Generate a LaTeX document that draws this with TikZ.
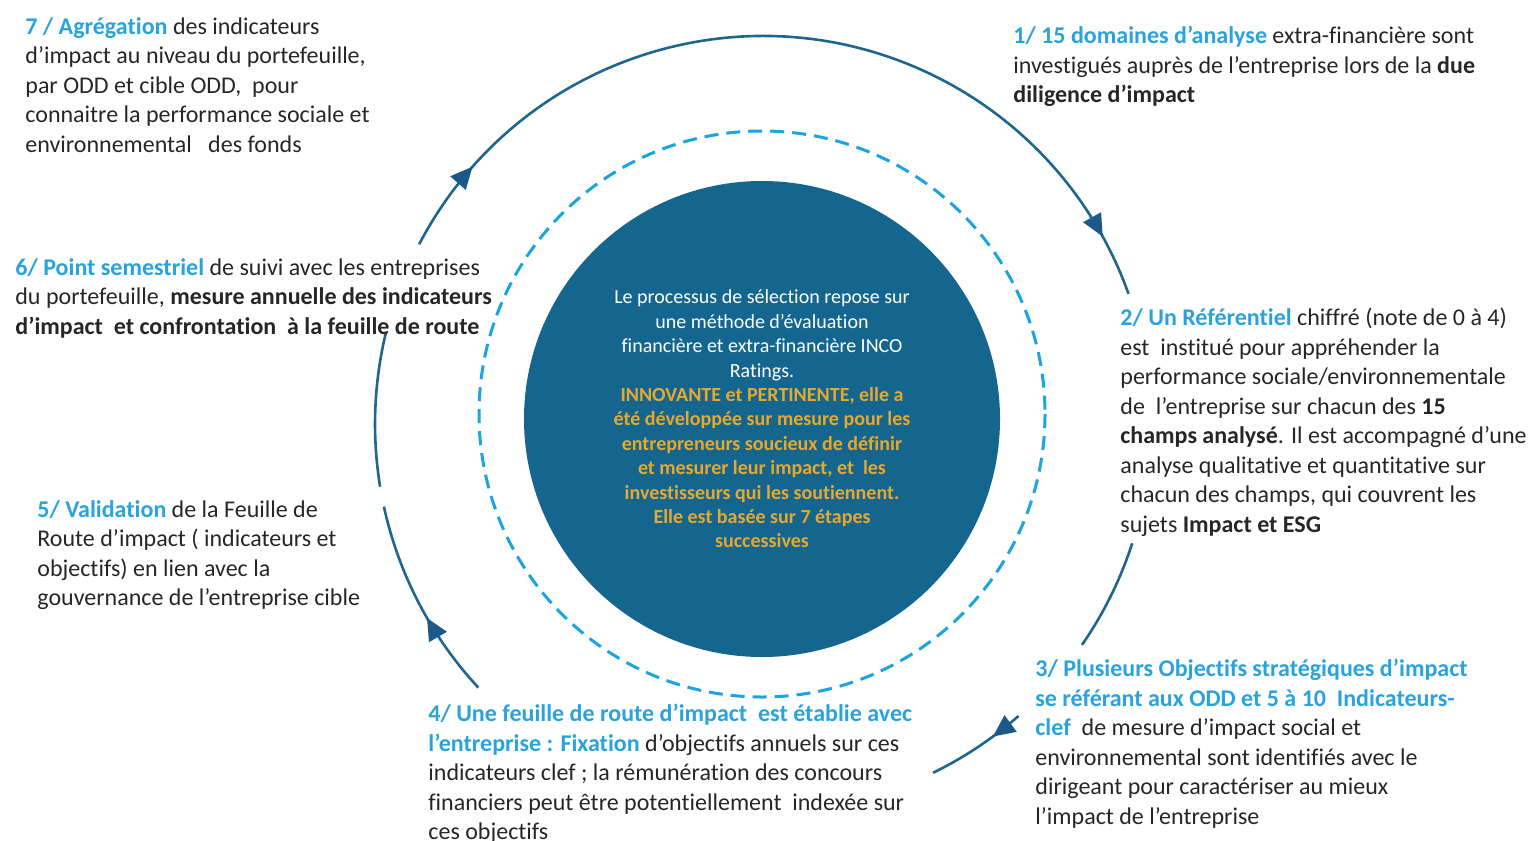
\documentclass[tikz,border=0pt]{standalone}
\usepackage{fontspec}
\setmainfont{Carlito}[Ligatures = NoCommon]
\usepackage{xcolor}
\usetikzlibrary{arrows.meta,decorations.markings}
\definecolor{ringblue}{RGB}{30,102,142}
\definecolor{tipblue}{RGB}{28,88,136}
\definecolor{coreblue}{RGB}{21,102,142}
\definecolor{dashblue}{RGB}{27,163,226}
\definecolor{headblue}{RGB}{41,163,221}
\definecolor{gold}{RGB}{230,168,45}
\definecolor{ink}{RGB}{38,38,38}
\newcommand{\stephead}[1]{\textcolor{headblue}{\textbf{#1}}}
\newcommand{\goldline}[1]{\textcolor{gold}{\textbf{#1}}}

\begin{document}
\begin{tikzpicture}[x = 0.5pt, y = -0.5pt,
  loop/.style = {line width = 1.3pt, color = ringblue},
  tip at/.style = {postaction = {decorate, decoration = {markings, mark = at position #1 with {\arrow[tipblue]{Triangle[length = 11pt, width = 10pt]}}}}},
  steptext/.style = {anchor = north west, inner sep = 0pt, align = left, text = ink, font = \fontsize{12}{14.75}\selectfont}]
\useasboundingbox (0,0) rectangle (1534,840);
\coordinate (hub) at (763,424);
\coordinate (ring) at (762,414);
\node[circle, fill = coreblue, minimum size = 238pt, align = center, text = white, font = \fontsize{10}{12.2}\selectfont] (core) at (762,419)
  {Le processus de sélection repose sur\\ une méthode d’évaluation\\ financière et extra-financière INCO\\ Ratings.\\
   \goldline{INNOVANTE et PERTINENTE, elle a}\\ \goldline{été développée sur mesure pour les}\\ \goldline{entrepreneurs soucieux de définir}\\
   \goldline{et mesurer leur impact, et\ \ les}\\ \goldline{investisseurs qui les soutiennent.}\\ \goldline{Elle est basée sur 7 étapes}\\ \goldline{successives}};
\draw[dashblue, line width = 1.5pt, dash pattern = on 7pt off 4pt] (ring) circle[radius = 283];
\draw[loop, tip at = 0.105, tip at = 0.93] (hub) ++(-152.4:388) arc[start angle = -152.4, end angle = -19.6, radius = 388];
\draw[loop] (hub) ++(17.9:388) arc[start angle = 17.9, end angle = 34.7, radius = 388];
\draw[loop, tip at = 0.32] (hub) ++(48.8:388) arc[start angle = 48.8, end angle = 64, radius = 388];
\draw[loop, tip at = 0.42] (hub) ++(137.2:388) arc[start angle = 137.2, end angle = 167.7, radius = 388];
\draw[loop] (hub) ++(170.7:388) arc[start angle = 170.7, end angle = 193.7, radius = 388];
\node[steptext] (s7) at (25,17) {\stephead{7 / Agrégation} des indicateurs\\ d’impact au niveau du portefeuille,\\ par ODD et cible ODD,\ \ pour\\ connaitre la performance sociale et\\ environnemental\ \ \ des fonds};
\node[steptext] (s1) at (1013,26) {\stephead{1/ 15 domaines d’analyse} extra-financière sont\\ investigués auprès de l’entreprise lors de la \textbf{due}\\ \textbf{diligence d’impact}};
\node[steptext] (s6) at (15,258) {\stephead{6/ Point semestriel} de suivi avec les entreprises\\ du portefeuille, \textbf{mesure annuelle des indicateurs}\\ \textbf{d’impact\ \ et confrontation\ \ à la feuille de route}};
\node[steptext] (s2) at (1120,308) {\stephead{2/ Un Référentiel} chiffré (note de 0 à 4)\\ est\ \ institué pour appréhender la\\ performance sociale/environnementale\\ de\ \ l’entreprise sur chacun des \textbf{15}\\ \textbf{champs analysé}. Il est accompagné d’une\\ analyse qualitative et quantitative sur\\ chacun des champs, qui couvrent les\\ sujets \textbf{Impact et ESG}};
\node[steptext] (s5) at (37,500) {\stephead{5/ Validation} de la Feuille de\\ Route d’impact ( indicateurs et\\ objectifs) en lien avec la\\ gouvernance de l’entreprise cible};
\node[steptext] (s4) at (428,704) {\stephead{4/ Une feuille de route d’impact\ \ est établie avec}\\ \stephead{l’entreprise : Fixation} d’objectifs annuels sur ces\\ indicateurs clef ; la rémunération des concours\\ financiers peut être potentiellement\ \ indexée sur\\ ces objectifs};
\node[steptext] (s3) at (1035,659) {\stephead{3/ Plusieurs Objectifs stratégiques d’impact}\\ \stephead{se référant aux ODD et 5 à 10\ \ Indicateurs-}\\ \stephead{clef}\ \ de mesure d’impact social et\\ environnemental sont identifiés avec le\\ dirigeant pour caractériser au mieux\\ l’impact de l’entreprise};
\end{tikzpicture}
\end{document}
